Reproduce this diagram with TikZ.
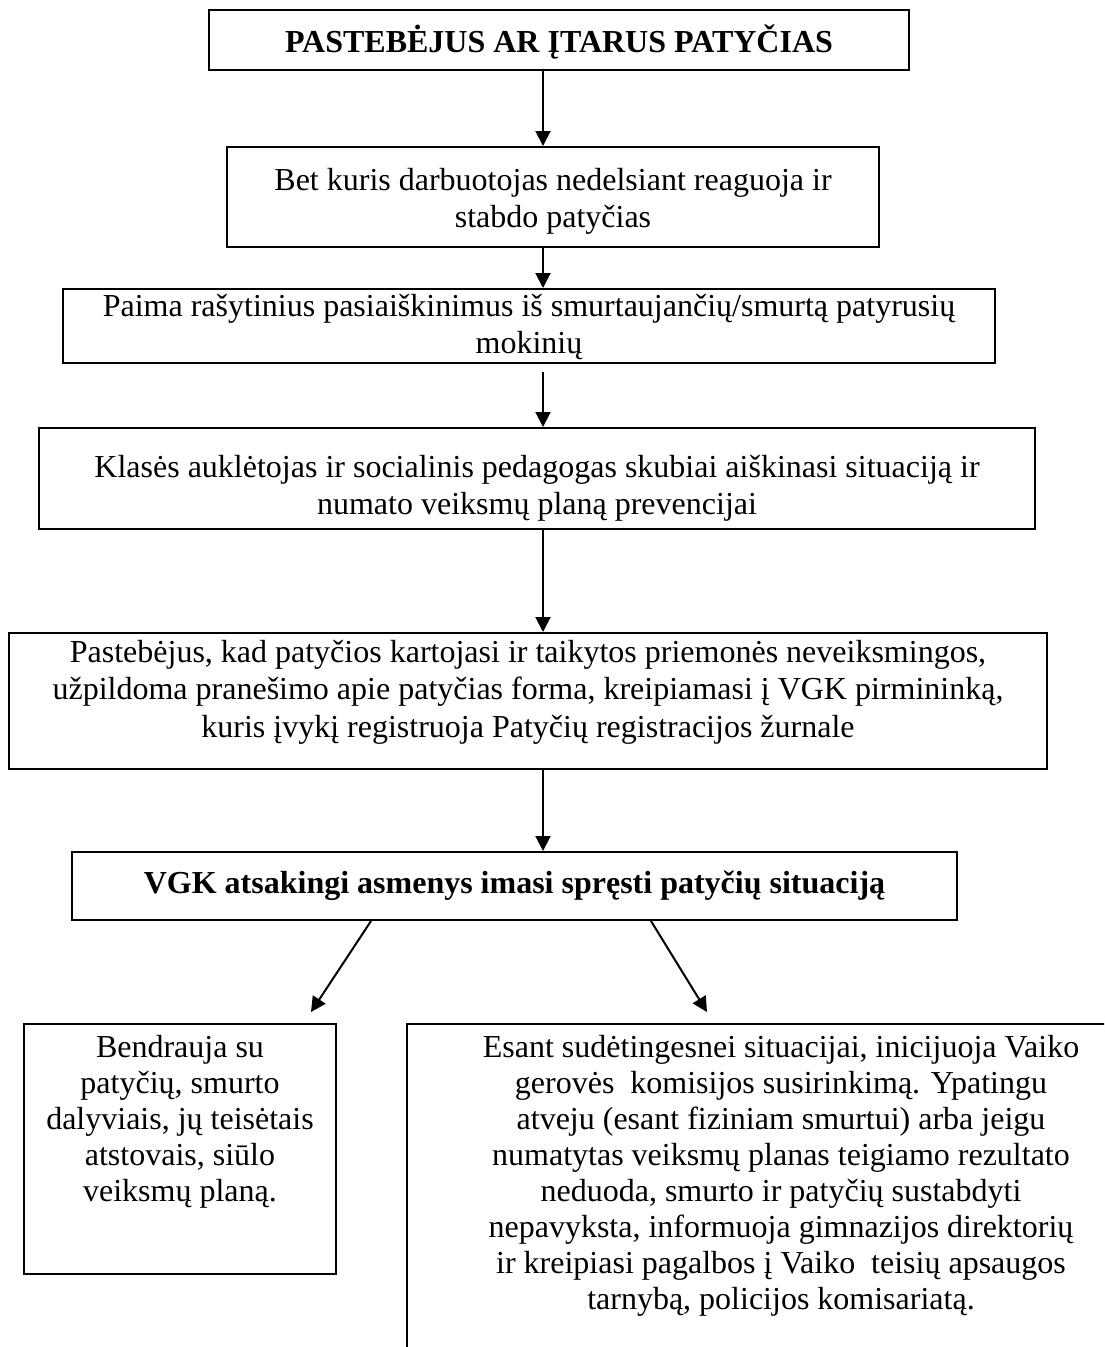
\documentclass[tikz,border=0pt]{standalone}
\usepackage{fontspec}
\setmainfont{Liberation Serif}
\usetikzlibrary{arrows.meta}

\begin{document}
\begin{tikzpicture}[x=1pt, y=-1pt,
	box/.style={draw, line width=2pt, align=center, inner sep=0pt, anchor=north west,
		font=\fontsize{32}{37.5}\selectfont},
	arr/.style={line width=2pt, -{Triangle[length=15pt,width=15pt]}}]
	\useasboundingbox (0,0) rectangle (1104,1347);
	\clip (0,0) rectangle (1104,1347);
	\coordinate (A) at (543,0);
	\node (S1) [box, minimum width=700pt, text height=42pt, text depth=18pt] at (208,9)
		{\textbf{PASTEBĖJUS AR ĮTARUS PATYČIAS}};
	\node (S2) [box, minimum width=652pt, text height=80.5pt, text depth=19.5pt] at (226,146)
		{Bet kuris darbuotojas nedelsiant reaguoja ir\\ stabdo patyčias};
	\node (S3) [box, minimum width=932pt, text height=64.5pt, text depth=9.5pt] at (62,288)
		{Paima rašytinius pasiaiškinimus iš smurtaujančių/smurtą patyrusių\\ mokinių};
	\node (S4) [box, minimum width=996pt, text height=86.5pt, text depth=14.5pt] at (38,427)
		{Klasės auklėtojas ir socialinis pedagogas skubiai aiškinasi situaciją ir\\ numato veiksmų planą prevencijai};
	\node (S5) [box, minimum width=1038pt, text height=104pt, text depth=32pt] at (8,632)
		{Pastebėjus, kad patyčios kartojasi ir taikytos priemonės neveiksmingos,\\
		užpildoma pranešimo apie patyčias forma, kreipiamasi į VGK pirmininką,\\
		kuris įvykį registruoja Patyčių registracijos žurnale};
	\node (S6) [box, minimum width=885pt, text height=41pt, text depth=27pt] at (71,851)
		{\textbf{VGK atsakingi asmenys imasi spręsti patyčių situaciją}};
	\node (S7) [box, font=\fontsize{32}{36}\selectfont, minimum width=312pt, text height=177pt, text depth=73pt] at (23,1023)
		{Bendrauja su\\ patyčių, smurto\\ dalyviais, jų teisėtais\\ atstovais, siūlo\\ veiksmų planą.};
	\node (S8) [box, font=\fontsize{32}{36}\selectfont, minimum width=748pt, text height=285pt, text depth=72pt] at (406,1023)
		{Esant sudėtingesnei situacijai, inicijuoja Vaiko\\
		gerovės\ \ komisijos susirinkimą. Ypatingu\\
		atveju (esant fiziniam smurtui) arba jeigu\\
		numatytas veiksmų planas teigiamo rezultato\\
		neduoda, smurto ir patyčių sustabdyti\\
		nepavyksta, informuoja gimnazijos direktorių\\
		ir kreipiasi pagalbos į Vaiko\ \ teisių apsaugos\\
		tarnybą, policijos komisariatą.};
	\coordinate (L0) at (371,0);
	\coordinate (R0) at (651,0);
	\coordinate (L) at (311,1012);
	\coordinate (R) at (707,1012);
	\draw[arr] (S1.south -| A) to (S2.north -| A);
	\draw[arr] (S2.south -| A) to (S3.north -| A);
	\draw[arr, shorten <=8pt] (S3.south -| A) to (S4.north -| A);
	\draw[arr] (S4.south -| A) to (S5.north -| A);
	\draw[arr] (S5.south -| A) to (S6.north -| A);
	\draw[arr] (S6.south -| L0) to (L);
	\draw[arr] (S6.south -| R0) to (R);
\end{tikzpicture}
\end{document}
